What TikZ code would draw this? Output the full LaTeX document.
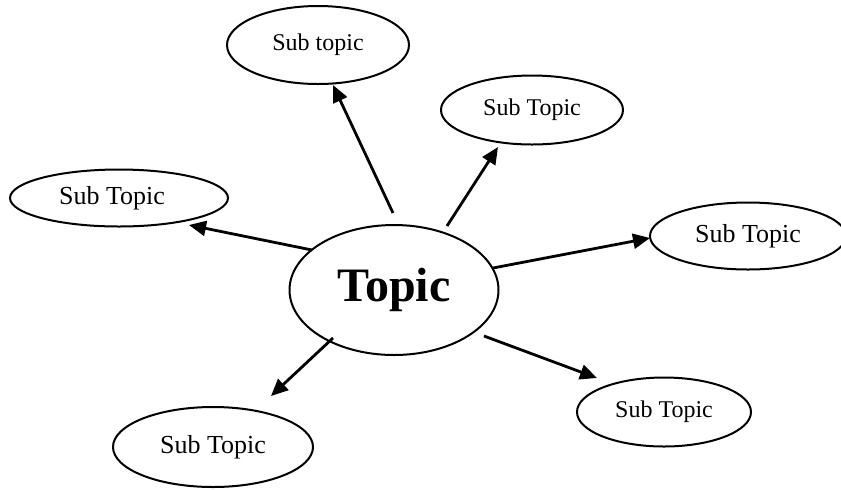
\documentclass[tikz,border=0pt]{standalone}
\usepackage{fontspec}
\setmainfont{Liberation Serif}
\usetikzlibrary{shapes.geometric,arrows.meta}
\begin{document}
\begin{tikzpicture}[x=0.5pt,y=-0.5pt,
  bub/.style={ellipse,draw,line width=1pt,inner sep=0pt},
  fsmall/.style={font=\fontsize{12}{14}\selectfont},
  fmid/.style={font=\fontsize{13}{15}\selectfont},
  arr/.style={-{Triangle[length=8.5pt,width=7.5pt]},line width=1.4pt}]
\useasboundingbox (0,0) rectangle (841,489);
\node[bub,minimum width=104.5pt,minimum height=65pt,font=\fontsize{24}{28}\selectfont\bfseries] (c) at (394,290) {Topic};
\node[bub,fsmall,minimum width=91pt,minimum height=39pt] (t) at (318,45) {Sub topic};
\node[bub,fsmall,minimum width=91pt,minimum height=34.5pt] (ur) at (532,110) {Sub Topic};
\node[bub,fmid,minimum width=109pt,minimum height=28.5pt] (l) at (119,198) {\hspace*{-7pt}Sub Topic};
\node[bub,fmid,minimum width=98pt,minimum height=33.5pt] (r) at (748,236) {Sub Topic};
\node[bub,fsmall,minimum width=87pt,minimum height=34.5pt] (lr) at (664,412) {Sub Topic};
\node[bub,fmid,minimum width=100pt,minimum height=40pt] (ll) at (213,447) {Sub Topic};
\coordinate (s1) at (393,213); \coordinate (e1) at (333,85);
\coordinate (s2) at (447,226); \coordinate (e2) at (498,147);
\coordinate (s3) at (312,250); \coordinate (e3) at (189,225);
\coordinate (s4) at (493,268); \coordinate (e4) at (650,238);
\coordinate (s5) at (484,336); \coordinate (e5) at (597,378);
\coordinate (s6) at (333,338); \coordinate (e6) at (271,396);
\draw[arr] (s1) -- (e1);
\draw[arr] (s2) -- (e2);
\draw[arr] (s3) -- (e3);
\draw[arr] (s4) -- (e4);
\draw[arr] (s5) -- (e5);
\draw[arr] (s6) -- (e6);
\end{tikzpicture}
\end{document}
